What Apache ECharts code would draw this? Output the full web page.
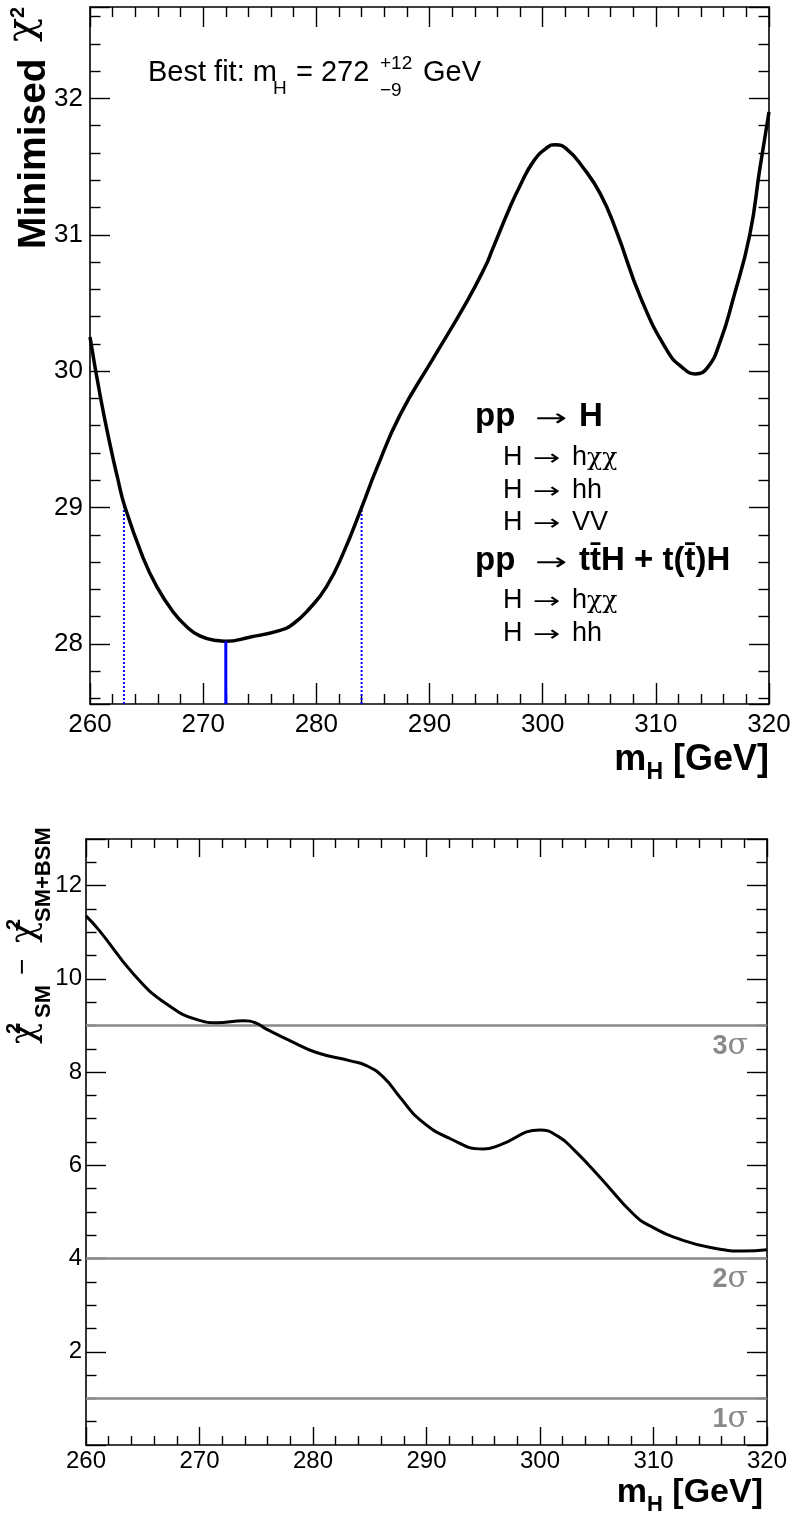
<!DOCTYPE html>
<html><head><meta charset="utf-8">
<script src="https://cdn.jsdelivr.net/npm/echarts@6/dist/echarts.min.js"></script>
<style>html,body{margin:0;padding:0;background:#fff}#c{width:795px;height:1517px}</style>
</head><body><div id="c"></div>
<script>
// ---------------- data ----------------
const xRange = [260, 320];
const topYRange = [27.56, 32.67];
const bottomYRange = [0, 13];

const massTop = [260, 260.9, 261.8, 262.4, 263.1, 264.7, 265.9, 267.3, 268.5, 269.7, 271.2, 272.0, 274.1, 276.8, 278.0, 279.4, 280.9, 282.4, 284.0, 285.3, 287.4, 290.3, 293.3, 295.0, 295.5, 297.1, 298.0, 299.2, 300.4, 301.1, 302.1, 303.6, 305.1, 306.5, 308.7, 311.0, 312.3, 313.5, 314.6, 315.7, 316.8, 318.3, 319.2, 320];
const chi2Top = [30.25, 29.82, 29.45, 29.23, 29.0, 28.63, 28.42, 28.24, 28.13, 28.06, 28.025, 28.02, 28.05, 28.10, 28.15, 28.26, 28.42, 28.67, 29.0, 29.28, 29.68, 30.09, 30.51, 30.78, 30.88, 31.20, 31.36, 31.54, 31.64, 31.66, 31.63, 31.49, 31.30, 31.03, 30.53, 30.15, 30.03, 29.98, 30.03, 30.22, 30.52, 31.0, 31.49, 31.90];

const massBottom = [260, 261.2, 264.2, 267.1, 270.0, 271.5, 273.9, 275.0, 275.9, 278.0, 280.3, 283.3, 284.7, 286.2, 287.7, 289.4, 292.1, 295.0, 296.5, 300.0, 301.6, 303.0, 305.3, 308.2, 309.7, 312.6, 315.6, 317.9, 320];
const deltaChi2 = [11.35, 11.03, 10.10, 9.46, 9.11, 9.06, 9.10, 9.05, 8.92, 8.67, 8.42, 8.24, 8.14, 7.89, 7.45, 6.98, 6.57, 6.35, 6.44, 6.76, 6.62, 6.33, 5.74, 4.96, 4.70, 4.39, 4.21, 4.16, 4.19];

const bestFitMass = 272;
const bestFitErrDown = 9;
const bestFitErrUp = 12;
const chi2AtBest = 28.02;
const sigmaLevels = [9, 4, 1];
const sigmaNames = ['3', '2', '1'];

// ---------------- styling helpers ----------------
const SANS = '"Liberation Sans", Arial, Helvetica, sans-serif';
const SERIF = '"DejaVu Serif", "Liberation Serif", serif';
const ARROWF = '"DejaVu Sans", sans-serif';
const GRAY = '#898989';
const BLUE = '#0000ff';

function xAx(grid, pos, showLabel, major, minor, margin, fs) {
  return {
    type: 'value', gridIndex: grid, position: pos, min: xRange[0], max: xRange[1], interval: 10,
    axisLine: {show: true, onZero: false, lineStyle: {color: '#000', width: 1.6}},
    axisTick: {show: true, inside: true, length: major, lineStyle: {color: '#000', width: 1.4}},
    minorTick: {show: true, splitNumber: 5, length: minor, lineStyle: {color: '#000', width: 1.4}},
    axisLabel: {show: showLabel, margin: margin, fontSize: fs, fontFamily: SANS, color: '#000'},
    splitLine: {show: false}, minorSplitLine: {show: false}
  };
}
function yAx(grid, pos, showLabel, range, extra, minorSplit, margin, fs) {
  return Object.assign({
    type: 'value', gridIndex: grid, position: pos, min: range[0], max: range[1],
    axisLine: {show: true, onZero: false, lineStyle: {color: '#000', width: 1.6}},
    axisTick: {show: true, inside: true, length: 20, lineStyle: {color: '#000', width: 1.4}},
    minorTick: {show: true, splitNumber: minorSplit, length: 10.5, lineStyle: {color: '#000', width: 1.4}},
    axisLabel: {show: showLabel, margin: margin, fontSize: fs, fontFamily: SANS, color: '#000',
      showMinLabel: false, showMaxLabel: false},
    splitLine: {show: false}, minorSplitLine: {show: false}
  }, extra);
}

// text placement helpers (baseline based)
const mctx = document.createElement('canvas').getContext('2d');
function tw(text, font) { mctx.font = font; return mctx.measureText(text).width; }
function F(size, bold, fam) { return (bold ? 'bold ' : '') + size + 'px ' + (fam || SANS); }
function htext(x, baseline, text, font, size, color, extra) {
  return Object.assign({type: 'text', x: x, y: baseline - 0.35 * size, silent: true,
    style: {text: text, font: font, fill: color || '#000', align: 'left', verticalAlign: 'middle'}}, extra || {});
}
function vtext(baseX, startY, text, font, size, color) {
  return {type: 'text', x: baseX - 0.35 * size, y: startY, rotation: Math.PI / 2, silent: true,
    style: {text: text, font: font, fill: color || '#000', align: 'left', verticalAlign: 'middle'}};
}
function runRight(right, baseline, pieces) {
  let total = 0;
  pieces.forEach(p => { p.w = tw(p.t, F(p.s, p.b, p.fam)); total += p.w; });
  let x = right - total; const out = [];
  pieces.forEach(p => { out.push(htext(x, baseline + (p.dy || 0), p.t, F(p.s, p.b, p.fam), p.s)); x += p.w; });
  return out;
}

const graphics = [];
// Top y title: Minimised chi^2
graphics.push(vtext(48, 249, 'Minimised', F(39, true), 39));
graphics.push(vtext(38, 42, 'χ', F(40, false, SERIF), 40));
graphics.push(vtext(25, 18, '2', F(20, true), 20));
// Best fit text
graphics.push(htext(148, 83, 'Best fit: m', F(29), 29));
graphics.push(htext(273, 95, 'H', F(19), 19));
graphics.push(htext(296, 83, '= 272', F(29), 29));
graphics.push(htext(380, 70, '+12', F(19), 19));
graphics.push(htext(380, 97, '\u22129', F(19), 19));
graphics.push(htext(423, 83, 'GeV', F(29), 29));
// Legend block
function boldRow(baseline, right) {
  graphics.push(htext(475, baseline, 'pp', F(33, true), 33));
  graphics.push(htext(535, baseline, '→', F(24, false, ARROWF), 24, '#000', {scaleX: 1.6}));
  graphics.push(htext(579, baseline, right, F(33, true), 33));
}
function normRow(baseline, right, serifPart) {
  graphics.push(htext(503, baseline, 'H', F(27), 27));
  graphics.push(htext(533, baseline, '→', F(22, false, ARROWF), 22, '#000', {scaleX: 1.5}));
  graphics.push(htext(572, baseline, right, F(27), 27));
  if (serifPart) graphics.push(htext(572 + tw(right, F(27)), baseline, serifPart, F(25, false, SERIF), 25));
}
boldRow(428, 'H');
normRow(467, 'h', 'χχ');
normRow(500, 'hh');
normRow(532, 'VV');
boldRow(572, 'tt\u0304H + t(t\u0304)H');
normRow(610, 'h', 'χχ');
normRow(643, 'hh');
// top x title
graphics.push(...runRight(769, 773, [{t: 'm', s: 36, b: true}, {t: 'H', s: 23, b: true, dy: 8}, {t: ' [GeV]', s: 36, b: true}]));
// bottom x title
graphics.push(...runRight(763, 1505, [{t: 'm', s: 34, b: true}, {t: 'H', s: 22, b: true, dy: 8}, {t: ' [GeV]', s: 34, b: true}]));
// bottom y title: chi2_SM - chi2_SM+BSM
graphics.push(vtext(38, 1044, 'χ', F(35, false, SERIF), 35));
graphics.push(vtext(21, 1034, '2', F(20, true), 20));
graphics.push(vtext(52, 1018, 'SM', F(22, true), 22));
graphics.push(vtext(33, 975, '\u2212', F(28), 28));
graphics.push(vtext(38, 943, 'χ', F(35, false, SERIF), 35));
graphics.push(vtext(21, 930, '2', F(20, true), 20));
graphics.push(vtext(52, 922, 'SM+BSM', F(22, true), 22));

const option = {
  animation: false,
  backgroundColor: '#fff',
  grid: [
    {left: 90, top: 7, width: 679, height: 697, containLabel: false},
    {left: 86, top: 839, width: 681, height: 606, containLabel: false}
  ],
  xAxis: [
    xAx(0, 'bottom', true, 21, 10, 8, 26),
    xAx(0, 'top', false, 20, 10, 8, 26),
    xAx(1, 'bottom', true, 18, 9, 4, 24),
    xAx(1, 'top', false, 18, 9, 4, 24)
  ],
  yAxis: [
    yAx(0, 'left', true, topYRange, {splitNumber: 5}, 5, 7, 26),
    yAx(0, 'right', false, topYRange, {splitNumber: 5}, 5, 7, 26),
    yAx(1, 'left', true, bottomYRange, {interval: 2}, 4, 4, 24),
    yAx(1, 'right', false, bottomYRange, {interval: 2}, 4, 4, 24)
  ],
  series: [
    {type: 'line', xAxisIndex: 0, yAxisIndex: 0, z: 3, smooth: 0.5, showSymbol: false, silent: true,
      lineStyle: {color: '#000', width: 3.5},
      data: massTop.map((m, i) => [m, chi2Top[i]])},
    {type: 'line', xAxisIndex: 0, yAxisIndex: 0, z: 4, showSymbol: false, silent: true,
      lineStyle: {color: BLUE, width: 3},
      data: [[bestFitMass, topYRange[0]], [bestFitMass, chi2AtBest]]},
    {type: 'line', xAxisIndex: 0, yAxisIndex: 0, z: 2, showSymbol: false, silent: true,
      lineStyle: {color: BLUE, width: 2, type: [2, 2]},
      data: [[bestFitMass - bestFitErrDown, topYRange[0]], [bestFitMass - bestFitErrDown, chi2AtBest + 1]]},
    {type: 'line', xAxisIndex: 0, yAxisIndex: 0, z: 2, showSymbol: false, silent: true,
      lineStyle: {color: BLUE, width: 2, type: [2, 2]},
      data: [[bestFitMass + bestFitErrUp, topYRange[0]], [bestFitMass + bestFitErrUp, chi2AtBest + 1]]},
    {type: 'line', xAxisIndex: 2, yAxisIndex: 2, z: 1, showSymbol: false, silent: true, data: [],
      markLine: {
        silent: true, symbol: 'none', z: 1, animation: false,
        lineStyle: {color: GRAY, width: 2.5, type: 'solid'},
        label: {show: true, position: 'insideEndBottom', distance: [19, 6],
          rich: {
            d: {fontFamily: SANS, fontWeight: 'bold', fontSize: 27, color: GRAY},
            s: {fontFamily: SERIF, fontSize: 30, color: GRAY}
          }},
        data: sigmaLevels.map((v, i) => ({yAxis: v, label: {formatter: '{d|' + sigmaNames[i] + '}{s|σ}'}}))
      }},
    {type: 'line', xAxisIndex: 2, yAxisIndex: 2, z: 3, smooth: 0.5, showSymbol: false, silent: true,
      lineStyle: {color: '#000', width: 3},
      data: massBottom.map((m, i) => [m, deltaChi2[i]])}
  ],
  graphic: graphics
};
const chart = echarts.init(document.getElementById('c'), null, {renderer: 'canvas'});
chart.setOption(option);
</script>
</body></html>
